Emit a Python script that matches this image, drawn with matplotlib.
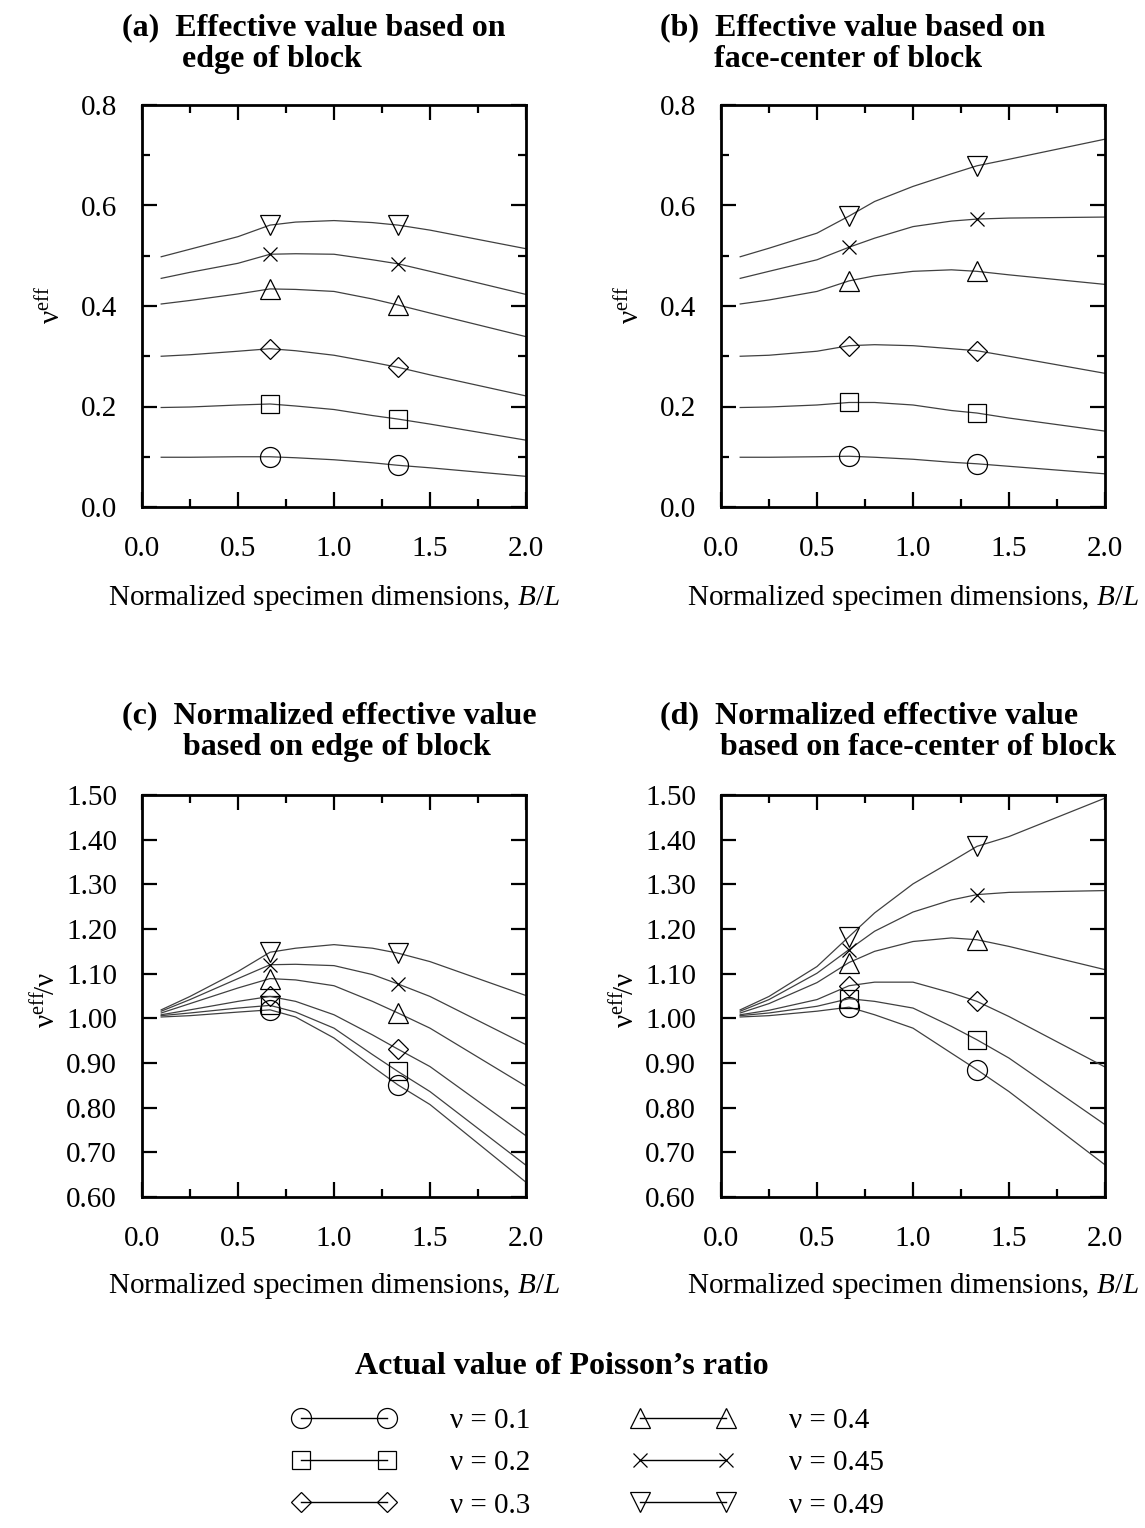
import matplotlib
matplotlib.use("Agg")
import matplotlib.pyplot as plt
from matplotlib.lines import Line2D
from matplotlib.ticker import MultipleLocator, FormatStrFormatter

plt.rcParams["font.family"] = ["Liberation Serif", "DejaVu Serif"]
plt.rcParams["mathtext.fontset"] = "custom"
plt.rcParams["mathtext.rm"] = "Liberation Serif"
plt.rcParams["mathtext.it"] = "Liberation Serif:italic"
plt.rcParams["mathtext.bf"] = "Liberation Serif:bold"

# ---- data -------------------------------------------------------------
# normalized specimen dimension B/L at which the curves are sampled
ratio_x = [0.1, 0.25, 0.5, 0.667, 0.8, 1.0, 1.2, 1.333, 1.5, 2.0]
marker_idx = [3, 7]          # tested specimens: B/L = 2/3 and 4/3

nu_labels = ["0.1", "0.2", "0.3", "0.4", "0.45", "0.49"]
nu_markers = ["o", "s", "D", "^", "x", "v"]
nu_msizes = [14.4, 13.0, 10.2, 15.0, 10.0, 15.0]

# (a) effective value, edge of block
a_010 = [0.099, 0.099, 0.100, 0.100, 0.098, 0.094, 0.088, 0.083, 0.078, 0.061]
a_020 = [0.198, 0.199, 0.203, 0.205, 0.201, 0.194, 0.182, 0.175, 0.165, 0.133]
a_030 = [0.300, 0.303, 0.310, 0.315, 0.311, 0.302, 0.288, 0.278, 0.263, 0.221]
a_040 = [0.404, 0.411, 0.424, 0.434, 0.433, 0.429, 0.414, 0.402, 0.386, 0.339]
a_045 = [0.455, 0.467, 0.485, 0.503, 0.504, 0.503, 0.492, 0.484, 0.469, 0.423]
a_049 = [0.498, 0.513, 0.538, 0.561, 0.567, 0.570, 0.566, 0.561, 0.551, 0.514]

# (b) effective value, face-center of block
b_010 = [0.099, 0.099, 0.100, 0.101, 0.099, 0.095, 0.089, 0.086, 0.081, 0.066]
b_020 = [0.198, 0.199, 0.203, 0.208, 0.208, 0.203, 0.192, 0.187, 0.177, 0.151]
b_030 = [0.300, 0.302, 0.310, 0.321, 0.323, 0.321, 0.315, 0.311, 0.300, 0.266]
b_040 = [0.404, 0.412, 0.429, 0.450, 0.460, 0.469, 0.472, 0.469, 0.462, 0.443]
b_045 = [0.455, 0.469, 0.492, 0.517, 0.535, 0.558, 0.569, 0.573, 0.575, 0.577]
b_049 = [0.498, 0.515, 0.545, 0.579, 0.608, 0.638, 0.663, 0.679, 0.692, 0.732]

# (c) normalized effective value, edge of block
c_010 = [1.003, 1.006, 1.014, 1.019, 1.003, 0.956, 0.892, 0.851, 0.807, 0.633]
c_020 = [1.006, 1.012, 1.023, 1.029, 1.014, 0.978, 0.919, 0.881, 0.836, 0.671]
c_030 = [1.008, 1.019, 1.038, 1.049, 1.038, 1.008, 0.963, 0.931, 0.892, 0.737]
c_040 = [1.012, 1.033, 1.068, 1.089, 1.086, 1.073, 1.038, 1.012, 0.978, 0.848]
c_045 = [1.016, 1.042, 1.089, 1.120, 1.121, 1.118, 1.098, 1.077, 1.049, 0.941]
c_049 = [1.019, 1.049, 1.105, 1.148, 1.157, 1.165, 1.157, 1.146, 1.127, 1.051]

# (d) normalized effective value, face-center of block
d_010 = [1.003, 1.006, 1.016, 1.025, 1.008, 0.978, 0.922, 0.885, 0.836, 0.672]
d_020 = [1.006, 1.012, 1.027, 1.044, 1.038, 1.023, 0.982, 0.952, 0.911, 0.762]
d_030 = [1.008, 1.018, 1.042, 1.073, 1.081, 1.081, 1.057, 1.038, 1.004, 0.891]
d_040 = [1.012, 1.033, 1.080, 1.125, 1.150, 1.172, 1.180, 1.176, 1.161, 1.109]
d_045 = [1.016, 1.042, 1.101, 1.154, 1.195, 1.238, 1.265, 1.277, 1.282, 1.286]
d_049 = [1.019, 1.049, 1.116, 1.183, 1.236, 1.301, 1.351, 1.385, 1.407, 1.493]

panel_series = {
    "a": [a_010, a_020, a_030, a_040, a_045, a_049],
    "b": [b_010, b_020, b_030, b_040, b_045, b_049],
    "c": [c_010, c_020, c_030, c_040, c_045, c_049],
    "d": [d_010, d_020, d_030, d_040, d_045, d_049],
}

# ---- layout (pixel geometry of a 1145 x 1528 canvas) ------------------
W, H = 1145, 1528
fig = plt.figure(figsize=(W / 100, H / 100), dpi=100)


def rect(l, t, r, b):
    return [l / W, 1 - b / H, (r - l) / W, (b - t) / H]


def fx(x):
    return x / W


def fy(y):
    return 1 - y / H


panels = {
    "a": rect(142, 105, 526, 507),
    "b": rect(721, 105, 1105, 507),
    "c": rect(142, 795, 526, 1197),
    "d": rect(721, 795, 1105, 1197),
}

LINE_COLOR = "#404040"
TICK_FS = 21
LABEL_FS = 21
TITLE_FS = 23

axes = {}
for key, r in panels.items():
    ax = fig.add_axes(r)
    axes[key] = ax
    for series, mk, ms in zip(panel_series[key], nu_markers, nu_msizes):
        ax.plot(ratio_x, series, color=LINE_COLOR, lw=0.9,
                marker=mk, markevery=marker_idx, ms=ms,
                mfc="none", mec="black", mew=0.9)
    ax.set_xlim(0.0, 2.0)
    ax.xaxis.set_major_locator(MultipleLocator(0.5))
    ax.xaxis.set_minor_locator(MultipleLocator(0.25))
    ax.xaxis.set_major_formatter(FormatStrFormatter("%.1f"))
    if key in ("a", "b"):
        ax.set_ylim(0.0, 0.8)
        ax.yaxis.set_major_locator(MultipleLocator(0.2))
        ax.yaxis.set_minor_locator(MultipleLocator(0.1))
        ax.yaxis.set_major_formatter(FormatStrFormatter("%.1f"))
    else:
        ax.set_ylim(0.6, 1.5)
        ax.yaxis.set_major_locator(MultipleLocator(0.1))
        ax.yaxis.set_major_formatter(FormatStrFormatter("%.2f"))
    ax.tick_params(which="both", direction="in", top=True, right=True,
                   width=1.6, labelsize=TICK_FS)
    ax.tick_params(axis="y", which="both", pad=18)
    ax.tick_params(axis="x", which="both", pad=21)
    ax.tick_params(which="major", length=11)
    ax.tick_params(which="minor", length=6)
    for sp in ax.spines.values():
        sp.set_linewidth(2.0)

# ---- titles --------------------------------------------------------------
title_bold = dict(fontsize=TITLE_FS, fontweight="bold", ha="left", va="baseline")
fig.text(fx(122), fy(35), "(a)  Effective value based on", **title_bold)
fig.text(fx(182), fy(67), "edge of block", **title_bold)
fig.text(fx(660), fy(35), "(b)  Effective value based on", **title_bold)
fig.text(fx(714), fy(67), "face-center of block", **title_bold)
fig.text(fx(122), fy(723), "(c)  Normalized effective value", **title_bold)
fig.text(fx(183), fy(755), "based on edge of block", **title_bold)
fig.text(fx(660), fy(723), "(d)  Normalized effective value", **title_bold)
fig.text(fx(720), fy(755), "based on face-center of block", **title_bold)

# ---- axis labels -----------------------------------------------------------
xlab = r"Normalized specimen dimensions, $B/L$"
fig.text(fx(334), fy(605), xlab, fontsize=LABEL_FS, ha="center", va="baseline")
fig.text(fx(913), fy(605), xlab, fontsize=LABEL_FS, ha="center", va="baseline")
fig.text(fx(334), fy(1293), xlab, fontsize=LABEL_FS, ha="center", va="baseline")
fig.text(fx(913), fy(1293), xlab, fontsize=LABEL_FS, ha="center", va="baseline")

ylab_eff = r"$\mathrm{\nu}^{\mathrm{eff}}$"
ylab_norm = r"$\mathrm{\nu}^{\mathrm{eff}}\!/\mathrm{\nu}$"
ykw = dict(fontsize=LABEL_FS, ha="center", va="center", rotation=90)
fig.text(fx(51), fy(305), ylab_eff, **ykw)
fig.text(fx(630), fy(305), ylab_eff, **ykw)
fig.text(fx(46), fy(1000), ylab_norm, **ykw)
fig.text(fx(625), fy(1000), ylab_norm, **ykw)

# ---- legend ------------------------------------------------------------------
fig.text(fx(562), fy(1374), "Actual value of Poisson\u2019s ratio",
         fontsize=TITLE_FS, fontweight="bold", ha="center", va="baseline")

handles = [Line2D([], [], color="black", lw=1.0, marker=mk, ms=ms,
                  mfc="none", mec="black", mew=0.9)
           for mk, ms in zip(nu_markers, nu_msizes)]
labels = ["\u03bd = " + s for s in nu_labels]
fig.legend(handles, labels, ncol=2, loc="center",
           bbox_to_anchor=(fx(588), fy(1463)), frameon=False,
           fontsize=LABEL_FS, numpoints=2, handlelength=3.55,
           handletextpad=1.86, columnspacing=3.47, labelspacing=0.55,
           borderpad=0.0)

fig.savefig("out.png", dpi=100)
